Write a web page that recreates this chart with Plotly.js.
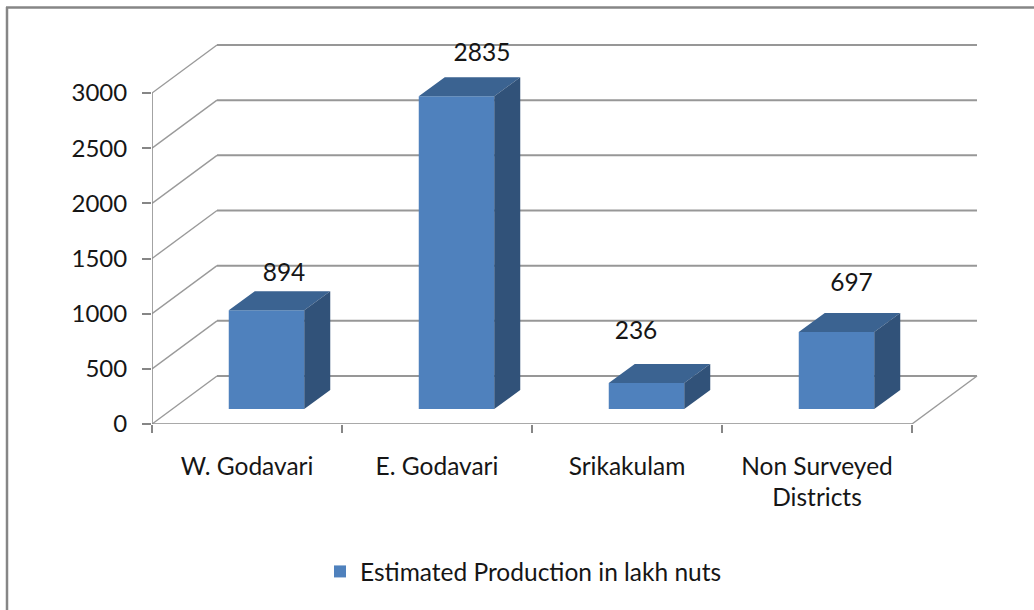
<!DOCTYPE html>
<html><head><meta charset="utf-8">
<script src="https://cdn.plot.ly/plotly-3.0.1.min.js"></script>
<style>html,body{margin:0;padding:0;background:#fff}#c{width:1034px;height:610px}</style>
</head><body><div id="c"></div>
<script>
const categories = ["W. Godavari","E. Godavari","Srikakulam","Non Surveyed<br>Districts"];
const values = [894,2835,236,697];
const seriesName = "Estimated Production in lakh nuts";
const yTicks = [0,500,1000,1500,2000,2500,3000];

// plot frame in page pixels
const L=152,R=978,T=44,B=424, pxPerCat=190, pxPerVal=(424-93)/3000;
const xu=p=>p/pxPerCat, yu=p=>p/pxPerVal;
const xRange=[0,xu(R-L)], yRange=[0,yu(B-T)];
// oblique projection offsets
const wallDx=xu(65), wallDy=yu(48);
const barW=xu(75.5), barOffX=xu(19.5), barOffY=yu(15), depDx=xu(26), depDy=yu(19);
const labelShift=[[17.5,-35],[25.5,-41],[-10.5,-50],[15,-47]];

const gx=[],gy=[],dx=[],dy=[];
yTicks.forEach(v=>{
  dx.push(0,wallDx,null); dy.push(v,v+wallDy,null);
  gx.push(wallDx,categories.length+wallDx,null); gy.push(v+wallDy,v+wallDy,null);
});
dx.push(categories.length,categories.length+wallDx); dy.push(0,wallDy);

const centers=categories.map((c,i)=>i+0.5);
const left=centers.map(c=>c+barOffX-barW/2), right=left.map(l=>l+barW);
const topX=[],topY=[],sideX=[],sideY=[];
values.forEach((v,i)=>{
  const t=v+barOffY;
  topX.push(left[i],left[i]+depDx,right[i]+depDx,right[i],left[i],null);
  topY.push(t,t+depDy,t+depDy,t,t,null);
  sideX.push(right[i],right[i]+depDx,right[i]+depDx,right[i],right[i],null);
  sideY.push(barOffY,barOffY+depDy,t+depDy,t,barOffY,null);
});
const txt="#161616", font="Lato", fs=24.5, fsTick=24;

const traces=[
 {type:"scatter",mode:"lines",x:gx,y:gy,line:{color:"#979797",width:2},showlegend:false,hoverinfo:"skip",cliponaxis:false},
 {type:"scatter",mode:"lines",x:dx,y:dy,line:{color:"#9a9a9a",width:1.4},showlegend:false,hoverinfo:"skip",cliponaxis:false},
 {type:"scatter",mode:"lines",x:[0,0,null,0,categories.length],y:[yTicks[yTicks.length-1],0,null,0,0],line:{color:"#8c8c8c",width:1.6},showlegend:false,hoverinfo:"skip",cliponaxis:false},
 {type:"bar",x:centers.map(c=>c+barOffX),y:values,base:barOffY,width:barW,name:seriesName,xaxis:"x2",yaxis:"y2",marker:{color:"#4f81bd",line:{width:0}},hoverinfo:"skip"},
 {type:"scatter",mode:"lines",x:topX,y:topY,fill:"toself",fillcolor:"#3b6391",line:{width:0,color:"#3b6391"},xaxis:"x2",yaxis:"y2",showlegend:false,hoverinfo:"skip",cliponaxis:false},
 {type:"scatter",mode:"lines",x:sideX,y:sideY,fill:"toself",fillcolor:"#315279",line:{width:0,color:"#315279"},xaxis:"x2",yaxis:"y2",showlegend:false,hoverinfo:"skip",cliponaxis:false},
 {type:"scatter",mode:"text",x:values.map((v,i)=>centers[i]+barOffX+xu(labelShift[i][0])),
  y:values.map((v,i)=>v+barOffY-yu(labelShift[i][1])),text:values.map(String),textposition:"middle center",
  textfont:{family:font,size:fs,color:txt},xaxis:"x2",yaxis:"y2",showlegend:false,hoverinfo:"skip",cliponaxis:false}
];
const W=1034,H=610;
const px=p=>(p-L)/(R-L), py=p=>(B-p)/(B-T);
const layout={
 width:W,height:H,paper_bgcolor:"#fff",plot_bgcolor:"rgba(0,0,0,0)",
 margin:{l:L,r:W-R,t:T,b:H-B,pad:0,autoexpand:false},
 font:{family:font,size:fs,color:txt},
 showlegend:true,
 legend:{x:px(320),y:py(549),xanchor:"left",yanchor:"top",orientation:"h",bgcolor:"rgba(0,0,0,0)",font:{family:font,size:fs,color:txt}},
 xaxis:{range:xRange,tickvals:categories.map((c,i)=>i).concat([categories.length]),ticks:"outside",ticklen:8,tickwidth:2,tickcolor:"#868686",showticklabels:false,showgrid:false,zeroline:false,showline:false},
 yaxis:{range:yRange,tickvals:yTicks,ticks:"outside",ticklen:9,tickwidth:2,tickcolor:"#868686",ticklabelstandoff:10,showgrid:false,zeroline:false,showline:false,tickfont:{family:font,size:fsTick,color:txt}},
 xaxis2:{range:xRange,overlaying:"x",anchor:"y2",tickvals:centers,ticktext:categories,ticks:"",ticklabelstandoff:25,showgrid:false,zeroline:false,showline:false,tickangle:0,tickfont:{family:font,size:fs,color:txt}},
 yaxis2:{range:yRange,overlaying:"y",anchor:"x2",visible:false,showgrid:false,zeroline:false},
 shapes:[
  {type:"line",xref:"paper",yref:"paper",x0:px(7),x1:px(7),y0:py(7),y1:py(610),line:{color:"#868686",width:2.5},layer:"below"},
  {type:"line",xref:"paper",yref:"paper",x0:px(6),x1:px(1034),y0:py(7.5),y1:py(7.5),line:{color:"#868686",width:2.5},layer:"below"}
 ]
};
Plotly.newPlot("c",traces,layout,{displayModeBar:false,staticPlot:true});
</script></body></html>
